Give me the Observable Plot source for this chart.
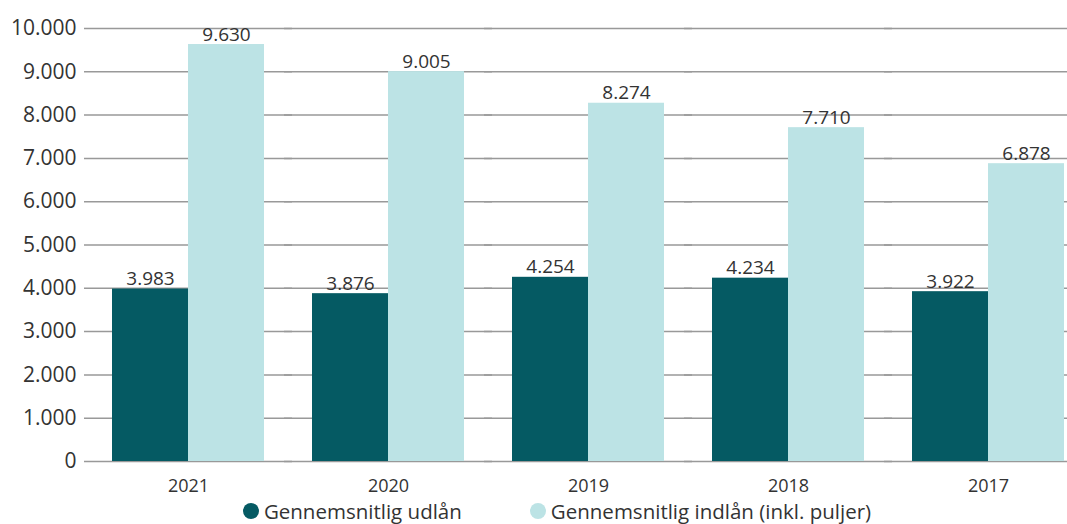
<!DOCTYPE html>
<html>
<head>
<meta charset="utf-8">
<script src="https://cdn.jsdelivr.net/npm/d3@7"></script>
<script src="https://cdn.jsdelivr.net/npm/@observablehq/plot@0.6"></script>
<style>
  html, body { margin: 0; padding: 0; background: #fff; overflow: hidden; }
  #chart svg { display: block; overflow: visible; }
  .legend { display: flex; justify-content: center; align-items: center; gap: 68px;
    font-family: "Open Sans", sans-serif; font-size: 20.5px; color: #333; padding-left: 47px; height: 26px; }
  .legend span.item { display: flex; align-items: center; }
  .legend span.dot { display: inline-block; width: 16px; height: 16px; border-radius: 50%; margin-right: 5px; }
</style>
</head>
<body>
<div id="chart"></div>
<div class="legend" id="legend"></div>
<script>
const years = ["2021", "2020", "2019", "2018", "2017"];
const udlan = [3983, 3876, 4254, 4234, 3922];
const indlan = [9630, 9005, 8274, 7710, 6878];
const seriesNames = ["Gennemsnitlig udlån", "Gennemsnitlig indlån (inkl. puljer)"];
const seriesColors = ["#055a63", "#bce3e5"];
const yTicks = [0, 1000, 2000, 3000, 4000, 5000, 6000, 7000, 8000, 9000, 10000];

const locale = d3.formatLocale({decimal: ",", thousands: ".", grouping: [3], currency: ["", " kr."]});
const fmt = locale.format(",d");

const data = years.flatMap((y, i) => [
  {year: y, series: seriesNames[0], value: udlan[i]},
  {year: y, series: seriesNames[1], value: indlan[i]}
]);

const chart = Plot.plot({
  width: 1067,
  height: 498,
  marginTop: 28,
  marginBottom: 37,
  marginLeft: 83,
  marginRight: 0,
  style: {fontFamily: "'Open Sans', sans-serif", fontSize: "18px", color: "#333", background: "#fff", overflow: "visible"},
  facet: {data, x: "year"},
  fx: {domain: years, paddingInner: 0.241, paddingOuter: 0.0774, align: 0.9, label: null, axis: "bottom", tickSize: 0, tickPadding: 18},
  x: {domain: seriesNames, padding: 0, axis: null},
  y: {domain: [0, 10000], ticks: yTicks, tickFormat: fmt, tickSize: 0, tickPadding: 36, label: null},
  color: {domain: seriesNames, range: seriesColors},
  marks: [
    Plot.ruleY(yTicks, {stroke: "#999", strokeWidth: 1.5, insetLeft: -28, insetRight: -28}),
    Plot.barY(data, {x: "series", y: "value", fill: "series"}),
    Plot.text(data, {x: "series", y: "value", text: d => fmt(d.value), dy: -10, fontSize: 19, fill: "#333"})
  ]
});
document.getElementById("chart").appendChild(chart);

// axis tick label sizes (matched by their text)
const yLabelSet = new Set(yTicks.map(fmt));
const yearSet = new Set(years);
chart.querySelectorAll("text").forEach(t => {
  const s = t.textContent.trim();
  if (yLabelSet.has(s)) {
    t.style.setProperty("font-size", "21px", "important");
    t.style.setProperty("fill", "#333");
  } else if (yearSet.has(s)) {
    t.style.setProperty("font-size", "18px", "important");
    t.style.setProperty("fill", "#333");
  }
});

const legend = document.getElementById("legend");
seriesNames.forEach((name, i) => {
  const item = document.createElement("span");
  item.className = "item";
  const dot = document.createElement("span");
  dot.className = "dot";
  dot.style.background = seriesColors[i];
  item.appendChild(dot);
  item.appendChild(document.createTextNode(name));
  legend.appendChild(item);
});
</script>
</body>
</html>
